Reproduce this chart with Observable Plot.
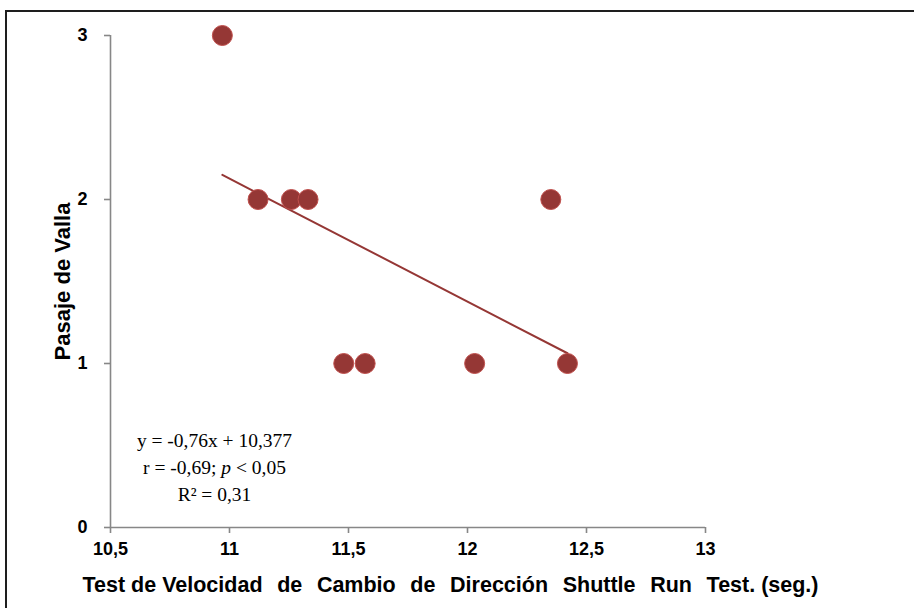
<!DOCTYPE html>
<html><head><meta charset="utf-8">
<script src="https://cdn.jsdelivr.net/npm/d3@7"></script>
<script src="https://cdn.jsdelivr.net/npm/@observablehq/plot@0.6"></script>
<style>
body{margin:0;background:#fff;width:914px;height:608px;overflow:hidden;position:relative}
#frame{position:absolute;left:5px;top:10px;width:940px;height:640px;border:2.5px solid #1e1e1e;box-sizing:border-box;pointer-events:none}
#chart{position:absolute;left:0;top:0}
</style></head><body><div id="chart"></div><div id="frame"></div>
<script>
const shuttleRun = [10.97, 11.12, 11.26, 11.33, 11.48, 11.57, 12.03, 12.35, 12.42];
const pasajeValla = [3, 2, 2, 2, 1, 1, 1, 2, 1];
const xTicks = [10.5, 11, 11.5, 12, 12.5, 13];
const yTicks = [0, 1, 2, 3];
const xTitle = "Test de Velocidad de Cambio de Dirección Shuttle Run Test. (seg.)";
const yTitle = "Pasaje de Valla";
const equationLines = ["y = -0,76x + 10,377", "r = -0,69; p < 0,05", "R² = 0,31"];

const data = shuttleRun.map((x, i) => ({x, y: pasajeValla[i]}));
const fmt = d => String(d).replace(".", ",");
const red = "#953735";
const axisGrey = "#878787";

const plot = Plot.plot({
  width: 914, height: 608,
  marginLeft: 110, marginRight: 209, marginTop: 35, marginBottom: 81,
  style: {fontFamily: "'Liberation Sans', Arial, sans-serif", fontWeight: "bold", fontSize: "17px", color: "#000", background: "#fff", overflow: "visible"},
  x: {domain: [10.5, 13]},
  y: {domain: [0, 3]},
  marks: [
    Plot.ruleY([0], {stroke: axisGrey, strokeWidth: 1.6}),
    Plot.ruleX([10.5], {stroke: axisGrey, strokeWidth: 1.6}),
    Plot.axisX({ticks: xTicks, tickFormat: fmt, tickSize: 6, tickPadding: 9, stroke: axisGrey, strokeWidth: 1.6, fill: "#000", label: null, fontSize: 18, fontWeight: "bold"}),
    Plot.axisY({ticks: yTicks, tickFormat: d => String(d), tickSize: 6, tickPadding: 17, stroke: axisGrey, strokeWidth: 1.6, fill: "#000", label: null, fontSize: 18, fontWeight: "bold"}),
    Plot.linearRegressionY(data, {x: "x", y: "y", stroke: red, strokeWidth: 2, ci: 0}),
    Plot.dot(data, {x: "x", y: "y", r: 10, fill: red, stroke: "#c0504d", strokeWidth: 1}),
    Plot.text([yTitle], {frameAnchor: "left", dx: -48, rotate: -90, textAnchor: "middle", lineAnchor: "middle", fontSize: 22, fontWeight: "bold", fill: "#000"}),
    Plot.text([xTitle], {frameAnchor: "bottom", dx: 42.5, dy: 58, textAnchor: "middle", lineAnchor: "middle", fontSize: 21.5, fontWeight: "bold", fill: "#000", className: "xtitle"}),
    Plot.text([equationLines.join("\n")], {frameAnchor: "bottom-left", dx: 104, dy: -62, textAnchor: "middle", lineAnchor: "middle", lineHeight: 1.38, fontSize: 19.5, fontWeight: "normal", fontFamily: "'Liberation Serif', 'DejaVu Serif', serif", fill: "#000", className: "eqn"})
  ]
});
document.getElementById("chart").appendChild(plot);

// x title: first and last words tight, the middle ones with widened word spacing
const xt = d3.select(plot).select("g.xtitle text");
if (!xt.empty()) {
  const node = xt.node();
  const w = node.getComputedTextLength();
  const a = "Test de Velocidad".length;
  const b = xTitle.indexOf(" Test.");
  const head = xTitle.slice(0, a), mid = xTitle.slice(a, b), tail = xTitle.slice(b);
  const spaces = (mid.match(/ /g) || []).length + 1;
  const ws = (736 - w) / spaces;
  xt.text(null);
  xt.append("tspan").text(head);
  const t2 = xt.append("tspan").text(mid + " ");
  t2.style("word-spacing", Math.max(0, ws) + "px");
  xt.append("tspan").text(tail.slice(1));
}
// italic p in the second equation line
d3.select(plot).selectAll("g.eqn tspan").each(function() {
  const t = d3.select(this);
  const s = t.text();
  const i = s.indexOf(" p ");
  if (i >= 0) {
    t.text(null);
    t.append("tspan").text(s.slice(0, i + 1));
    t.append("tspan").style("font-style", "italic").text("p");
    t.append("tspan").text(s.slice(i + 2));
  }
});
</script></body></html>
